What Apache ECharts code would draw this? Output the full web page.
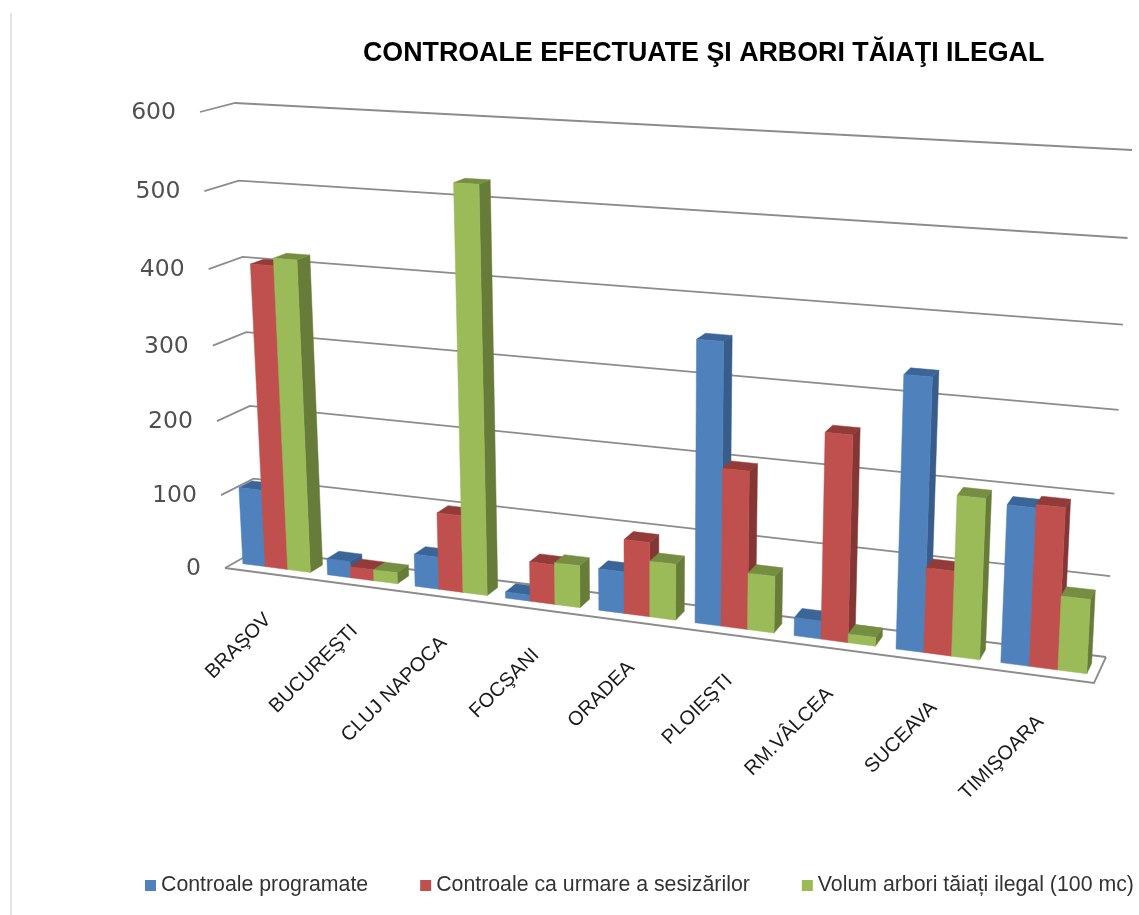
<!DOCTYPE html>
<html>
<head>
<meta charset="utf-8">
<title>Controale efectuate</title>
<script src="https://cdn.jsdelivr.net/npm/echarts@6/dist/echarts.min.js"></script>
<style>
html,body{margin:0;padding:0;background:#fff;}
#chart{width:1139px;height:915px;}
</style>
</head>
<body>
<div id="chart"></div>
<script>
var categories = ['BRAŞOV','BUCUREŞTI','CLUJ NAPOCA','FOCŞANI','ORADEA','PLOIEŞTI','RM.VÂLCEA','SUCEAVA','TIMIŞOARA'];
var programate = [105,22,43,8,54,356,23,335,192];
var sesizari = [405,15,102,52,96,200,257,105,196];
var volum = [415,15,526,55,72,72,11,197,90];
var ticks = [0,100,200,300,400,500,600];

// colturile cutiei 3D (pixeli) - fata / spate, jos / sus
var FBL=[225,568], FBR=[1094,683], BBL=[257,550], BBR=[1106,657];
var FTL=[200,112], FTR=[1120,161], BTL=[235,103], BTR=[1132,150];
var barFront = 0.3, barBack = 0.7, groupWidth = 0.8;

function mix(a,b,t){ return [a[0]+(b[0]-a[0])*t, a[1]+(b[1]-a[1])*t]; }

// u stanga-dreapta, v jos-sus, w fata-spate
function project(u,v,w){
	var uu = u - 0.135*u*(1-u);//perspectiva pe orizontala
	var vv = v - 0.05*v*(1-v);
	var bottom = mix(mix(FBL,FBR,uu), mix(BBL,BBR,uu), w);
	var top = mix(mix(FTL,FTR,uu), mix(BTL,BTR,uu), w);
	return mix(bottom,top,vv);
}

function norm(api,params,cat,val){
	var p = api.coord([cat,val]);
	var r = params.coordSys;
	return [(p[0]-r.x)/r.width, (r.y+r.height-p[1])/r.height];
}

function quad(pts,color){
	return {type:'polygon', shape:{points:pts}, style:{fill:color, stroke:color, lineWidth:0.5}};
}

function barRender(index,front,side,top){
	return function(params,api){
		var n = norm(api,params,api.value(0),api.value(1));
		var w = groupWidth/categories.length/3;
		var u0 = n[0] + (index-1.5)*w, u1 = u0+w, v = n[1];
		var a = project(u0,0,barFront), b = project(u1,0,barFront);
		var c = project(u1,v,barFront), d = project(u0,v,barFront);
		var e = project(u1,0,barBack), f = project(u1,v,barBack), g = project(u0,v,barBack);
		return {type:'group', children:[
			quad([b,e,f,c],side),
			quad([d,c,f,g],top),
			quad([a,b,c,d],front)
		]};
	};
}

function gridRender(params,api){
	var v = norm(api,params,0,api.value(0))[1];
	var fl = project(0,v,0), bl = project(0,v,1), br = project(1,v,1);
	var line = {fill:'none', stroke:'#8c8c8c', lineWidth:1.8};
	var children = [
		{type:'polyline', shape:{points:[fl,bl,br]}, style:line},
		{type:'text', x:fl[0]-24, y:fl[1]+1, style:{text:String(api.value(0)), textAlign:'right', textVerticalAlign:'middle', font:'23.5px "DejaVu Sans"', fill:'#505050'}}
	];
	if(v===0){
		children.push({type:'polyline', shape:{points:[fl,project(1,0,0),br]}, style:line});
	}
	return {type:'group', children:children};
}

function labelRender(params,api){
	var i = params.dataIndex;
	var n = norm(api,params,i,0);
	var p = project(n[0],0,0);
	return {type:'text', x:p[0]+1, y:p[1]+43, rotation:Math.PI/4, style:{text:categories[i], textAlign:'right', textVerticalAlign:'middle', font:'20px "Liberation Sans"', fill:'#1a1a1a'}};
}

function barData(values){
	return values.map(function(v,i){ return [i,v]; });
}

var option = {
	animation:false,
	backgroundColor:'#fff',
	title:{
		text:'CONTROALE EFECTUATE ŞI ARBORI TĂIAŢI ILEGAL',
		left:358, top:35,
		textStyle:{fontFamily:'Liberation Sans', fontSize:26.8, fontWeight:'bold', color:'#000'}
	},
	legend:{
		left:140, top:870, width:1100,
		icon:'rect', itemWidth:11, itemHeight:11, itemGap:52,
		data:['Controale programate','Controale ca urmare a sesizărilor','Volum arbori tăiați ilegal (100 mc)'],
		textStyle:{fontFamily:'Liberation Sans', fontSize:21.3, color:'#333'}
	},
	grid:{left:0, right:0, top:0, bottom:0},
	xAxis:{type:'category', data:categories, show:false},
	yAxis:{type:'value', min:0, max:600, interval:100, show:false},
	graphic:[{type:'line', shape:{x1:11,y1:13,x2:11,y2:915}, style:{stroke:'#c8c8c8', lineWidth:1}}],
	series:[
		{type:'custom', name:'grid', z:1, silent:true, data:ticks.map(function(t){return [t];}), encode:{y:0}, renderItem:gridRender},
		{type:'custom', name:'labels', z:1, silent:true, data:categories.map(function(c,i){return [i];}), encode:{x:0}, renderItem:labelRender},
		{type:'custom', name:'Controale programate', z:2, itemStyle:{color:'#4F81BD'}, data:barData(programate), encode:{x:0,y:1}, renderItem:barRender(0,'#4F81BD','#385D8A','#3A6596')},
		{type:'custom', name:'Controale ca urmare a sesizărilor', z:3, itemStyle:{color:'#C0504D'}, data:barData(sesizari), encode:{x:0,y:1}, renderItem:barRender(1,'#C0504D','#843634','#933B39')},
		{type:'custom', name:'Volum arbori tăiați ilegal (100 mc)', z:4, itemStyle:{color:'#9BBB59'}, data:barData(volum), encode:{x:0,y:1}, renderItem:barRender(2,'#9BBB59','#667C38','#758E41')}
	]
};

var chart = echarts.init(document.getElementById('chart'));
chart.setOption(option);
</script>
</body>
</html>
